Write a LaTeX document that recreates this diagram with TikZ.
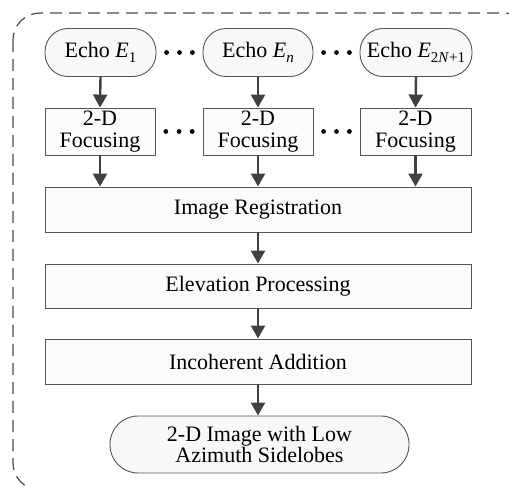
\documentclass[tikz,border=0pt]{standalone}
\usepackage{fontspec}
\setmainfont{Liberation Serif}
\usetikzlibrary{arrows.meta,calc}
\definecolor{edge}{HTML}{555555}
\definecolor{arr}{HTML}{404040}
\definecolor{boxfill}{HTML}{FBFBFB}
\definecolor{roundfill}{HTML}{F8F8F8}
\newcommand{\sbs}[1]{\raisebox{-0.45ex}{\fontsize{15}{15}\selectfont #1}}
\tikzset{
  every node/.style={font=\fontsize{22}{22}\selectfont},
  stadium/.style={draw=edge, line width=0.9pt, fill=roundfill, rounded corners=23pt, minimum height=48pt, align=center, inner sep=0pt},
  procbox/.style={draw=edge, line width=0.9pt, fill=boxfill, minimum height=46pt, align=center, inner sep=0pt},
  flow/.style={draw=arr, line width=2.4pt, -{Triangle[width=14pt,length=13pt]}},
  dotmark/.style={fill=black}
}
\begin{document}
\begin{tikzpicture}[x=1pt,y=-1pt]
\useasboundingbox (0,0) rectangle (509,486);
\clip (0,0) rectangle (509,486);
\draw[edge!90!black, line width=1.2pt, dash pattern=on 12pt off 7pt, rounded corners=27pt] (13,13) rectangle (532,490);

\node[stadium, minimum width=111pt] (e1) at (100.5,52.5) {Echo \textit{E}\sbs{1}};
\node[stadium, minimum width=110pt] (en) at (258,52.5) {Echo \textit{E}\sbs{\textit{n}}};
\node[stadium, minimum width=112pt] (ex) at (416,52.5) {Echo \textit{E}\sbs{2\textit{N}+1}};

\node[procbox, minimum width=110pt, minimum height=47pt] (f1) at (100,131.5) {2-D\\Focusing};
\node[procbox, minimum width=110pt, minimum height=47pt] (f2) at (258,131.5) {2-D\\Focusing};
\node[procbox, minimum width=111pt, minimum height=47pt] (f3) at (415.5,131.5) {2-D\\Focusing};

\node[procbox, minimum width=426pt, minimum height=45pt] (ir) at (258,209.5) {Image Registration};
\node[procbox, minimum width=426pt, minimum height=44pt] (ep) at (258,286) {Elevation Processing};
\node[procbox, minimum width=426pt, minimum height=45pt] (ia) at (258,361.5) {Incoherent Addition};
\node[stadium, minimum width=299pt, minimum height=57pt, rounded corners=28pt, font=\fontsize{22}{21}\selectfont] (out) at (259.5,444.5) {2-D Image with Low\\Azimuth Sidelobes};

\draw[flow] (e1.south) -- (f1.north);
\draw[flow] (en.south) -- (f2.north);
\draw[flow] (ex.south) -- (f3.north);
\draw[flow] (f1.south) -- (f1.south |- ir.north);
\draw[flow] (f2.south) -- (f2.south |- ir.north);
\draw[flow] (f3.south) -- (f3.south |- ir.north);
\draw[flow] (ir.south) -- (ep.north);
\draw[flow] (ep.south) -- (ia.north);
\draw[flow] (ia.south) -- (ia.south |- out.north);

\foreach \a/\b in {e1/en, en/ex, f1/f2, f2/f3}{
  \foreach \t in {0.22,0.5,0.78}{
    \fill ($(\a.east)!\t!(\b.west)$) circle (2.4pt);
  }
}
\end{tikzpicture}
\end{document}
